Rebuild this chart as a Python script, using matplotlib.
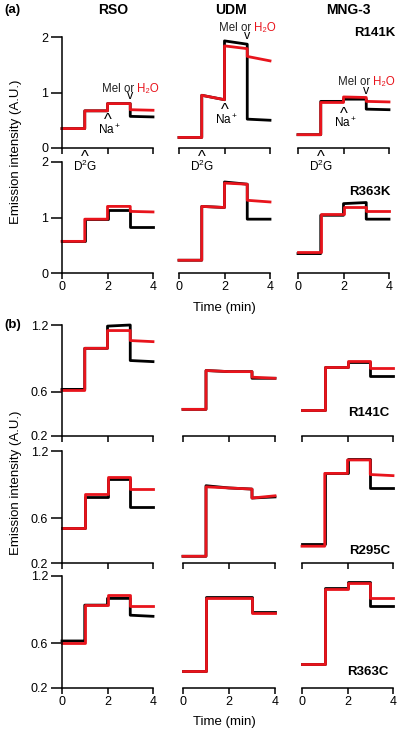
import matplotlib
matplotlib.use('Agg')
import matplotlib.pyplot as plt
from matplotlib.transforms import blended_transform_factory, offset_copy

plt.rcParams['font.family'] = ['Liberation Sans', 'DejaVu Sans']
plt.rcParams['mathtext.default'] = 'regular'

# time points of each trace: start and end of the four 1-min periods
t_pts = [0, 1, 1, 2, 2, 3, 3, 4]
columns = ['RSO', 'UDM', 'MNG-3']

# (a) values at t_pts, one list per column (RSO, UDM, MNG-3)
r141k_black = [[0.35, 0.35, 0.67, 0.67, 0.80, 0.80, 0.57, 0.56],
               [0.19, 0.19, 0.95, 0.87, 1.93, 1.87, 0.52, 0.50],
               [0.24, 0.24, 0.84, 0.84, 0.88, 0.88, 0.70, 0.69]]
r141k_red = [[0.35, 0.35, 0.67, 0.67, 0.80, 0.80, 0.69, 0.68],
             [0.19, 0.19, 0.95, 0.87, 1.84, 1.79, 1.65, 1.57],
             [0.24, 0.24, 0.82, 0.82, 0.92, 0.91, 0.84, 0.83]]
r363k_black = [[0.57, 0.57, 0.97, 0.97, 1.14, 1.14, 0.83, 0.83],
               [0.23, 0.23, 1.20, 1.18, 1.64, 1.60, 0.97, 0.97],
               [0.35, 0.35, 1.04, 1.04, 1.25, 1.27, 0.97, 0.97]]
r363k_red = [[0.57, 0.57, 0.97, 0.97, 1.20, 1.20, 1.11, 1.10],
             [0.23, 0.23, 1.20, 1.18, 1.62, 1.60, 1.31, 1.28],
             [0.37, 0.37, 1.07, 1.07, 1.19, 1.19, 1.11, 1.11]]

# (b)
r141c_black = [[0.62, 0.62, 0.99, 0.99, 1.19, 1.20, 0.88, 0.87],
               [0.44, 0.44, 0.79, 0.78, 0.78, 0.78, 0.72, 0.72],
               [0.43, 0.43, 0.82, 0.82, 0.87, 0.87, 0.74, 0.74]]
r141c_red = [[0.61, 0.61, 0.99, 0.99, 1.15, 1.15, 1.06, 1.05],
             [0.44, 0.44, 0.79, 0.78, 0.78, 0.78, 0.73, 0.72],
             [0.43, 0.43, 0.82, 0.82, 0.88, 0.88, 0.81, 0.81]]
r295c_black = [[0.51, 0.51, 0.79, 0.79, 0.95, 0.95, 0.70, 0.70],
               [0.26, 0.26, 0.89, 0.87, 0.87, 0.86, 0.78, 0.79],
               [0.37, 0.37, 1.00, 1.00, 1.13, 1.13, 0.87, 0.87]]
r295c_red = [[0.51, 0.51, 0.82, 0.82, 0.97, 0.97, 0.86, 0.86],
             [0.26, 0.26, 0.88, 0.87, 0.87, 0.86, 0.78, 0.80],
             [0.35, 0.35, 1.00, 1.00, 1.12, 1.12, 0.99, 0.98]]
r363c_black = [[0.62, 0.62, 0.94, 0.94, 1.00, 1.00, 0.85, 0.84],
               [0.35, 0.35, 1.01, 1.01, 1.01, 1.01, 0.88, 0.88],
               [0.41, 0.41, 1.09, 1.09, 1.15, 1.15, 0.93, 0.93]]
r363c_red = [[0.60, 0.60, 0.94, 0.94, 1.03, 1.03, 0.93, 0.93],
             [0.35, 0.35, 1.00, 1.00, 1.00, 1.00, 0.87, 0.87],
             [0.41, 0.41, 1.08, 1.08, 1.14, 1.14, 1.00, 1.00]]

rows = [('R141K', r141k_black, r141k_red, 'a'),
        ('R363K', r363k_black, r363k_red, 'a'),
        ('R141C', r141c_black, r141c_red, 'b'),
        ('R295C', r295c_black, r295c_red, 'b'),
        ('R363C', r363c_black, r363c_red, 'b')]

# additions (min): D2G, Na+, melibiose or water
t_d2g, t_na, t_mel = 1, 2, 3

RED = '#e8141c'
W, H = 400, 733
fig = plt.figure(figsize=(W / 100, H / 100), dpi=100)
renderer = fig.canvas.get_renderer()

def px_axes(x0, x1, ytop, ybot):
    return fig.add_axes([x0 / W, 1 - ybot / H, (x1 - x0) / W, (ybot - ytop) / H])

col_x = {'a': [(62, 153), (179, 270), (298, 389)],
         'b': [(62, 153), (183, 275), (302, 393)]}
row_y = [(37, 148), (162, 273), (325, 436), (451, 563), (576, 688)]
label_y = [33, 192, 413, 551, 672]
label_right = [395, 390, 389, 390, 389]

axes = []
for i, (name, blk, red, panel) in enumerate(rows):
    ax_row = []
    for j in range(3):
        ax = px_axes(*col_x[panel][j], *row_y[i])
        ax.plot(t_pts, blk[j], color='black', lw=2.0, clip_on=False)
        ax.plot(t_pts, red[j], color=RED, lw=2.0, clip_on=False)
        ax.set_xlim(0, 4)
        if panel == 'a':
            ax.set_ylim(0, 2)
            ax.set_yticks([0, 1, 2])
        else:
            ax.set_ylim(0.2, 1.2)
            ax.set_yticks([0.2, 0.6, 1.2])
            ax.set_yticklabels(['0.2', '0.6', '1.2'])
        ax.set_xticks([0, 2, 4])
        for s in ['top', 'right']:
            ax.spines[s].set_visible(False)
        for s in ['left', 'bottom']:
            ax.spines[s].set_linewidth(1.1)
        ax.tick_params(axis='x', direction='out', length=4.5, width=1.1,
                       labelsize=9, pad=1)
        ax.tick_params(axis='y', direction='out', length=8, width=1.1,
                       labelsize=9, pad=2)
        if j > 0:
            ax.spines['left'].set_visible(False)
            ax.tick_params(axis='y', left=False, labelleft=False)
        if i not in (1, 4):
            ax.tick_params(axis='x', labelbottom=False)
        ax.patch.set_alpha(0)
        ax_row.append(ax)
    axes.append(ax_row)
    fig.text(label_right[i] / W, 1 - label_y[i] / H, name, ha='right',
             va='center', fontsize=9.5, fontweight='bold')

# column titles and panel letters
for name, xc in zip(columns, [113, 231, 348]):
    fig.text(xc / W, 1 - 10 / H, name, ha='center', va='center',
             fontsize=10, fontweight='bold')
fig.text(4 / W, 1 - 10 / H, '(a)', ha='left', va='center', fontsize=9.5, fontweight='bold')
fig.text(4 / W, 1 - 325 / H, '(b)', ha='left', va='center', fontsize=9.5, fontweight='bold')

for yc in [152, 483]:
    fig.text(16 / W, 1 - yc / H, 'Emission intensity (A.U.)', rotation=90,
             ha='center', va='center', fontsize=9.5)
for yc in [308, 722]:
    fig.text(224 / W, 1 - yc / H, 'Time (min)', ha='center', va='center', fontsize=9.5)


def note(ax, x, ybase, s, size, **kw):
    # x in minutes, ybase = baseline in pixels from the top of the figure
    tr = blended_transform_factory(ax.transData, fig.transFigure)
    return ax.text(x, 1 - ybase / H, s, transform=tr, ha='center',
                   va='baseline', fontsize=size, clip_on=False, **kw)


# annotation baselines (px) on the R141K row: Mel text, v, ^, Na+
annot_y = [(92, 99, 125, 134),
           (31, 39, 115, 124),
           (85, 94, 119, 127)]
for ax, (ym, yv, yc, yn) in zip(axes[0], annot_y):
    t1 = note(ax, t_mel, ym, 'Mel or', 8.3, color='#222222')
    t2 = note(ax, t_mel, ym, 'H₂O', 8.3, color=RED)
    t1.set_ha('left')
    t2.set_ha('left')
    w1 = t1.get_window_extent(renderer).width
    w2 = t2.get_window_extent(renderer).width
    gap = 3
    shift = (w1 + gap + w2) / 2
    base = t1.get_transform()
    t1.set_transform(offset_copy(base, x=-shift, units='dots'))
    t2.set_transform(offset_copy(base, x=w1 + gap - shift, units='dots'))
    note(ax, t_mel, yv, 'v', 9)
    note(ax, t_na, yc, '^', 12)
    note(ax, t_na + 0.1, yn, 'Na$^+$', 8.5)
    note(ax, t_d2g, 162, '^', 12)
    note(ax, t_d2g, 171, 'D$^2$G', 8.5)

fig.savefig('out.png', dpi=100)
